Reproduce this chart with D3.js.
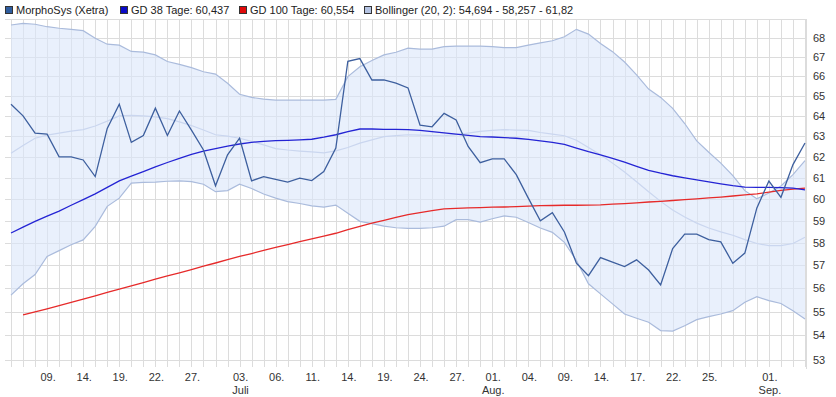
<!DOCTYPE html>
<html>
<head>
<meta charset="utf-8">
<script src="https://cdn.jsdelivr.net/npm/d3@7"></script>
<style>
  html, body { margin: 0; padding: 0; background: #fff; }
  svg { display: block; font-family: "Liberation Sans", Arial, sans-serif; }
</style>
</head>
<body>
<div id="chart"></div>
<script>
// trading days, Xetra, June - Sept 2017
const dates = [
  "2017-06-06","2017-06-07","2017-06-08","2017-06-09",
  "2017-06-12","2017-06-13","2017-06-14","2017-06-15","2017-06-16",
  "2017-06-19","2017-06-20","2017-06-21","2017-06-22","2017-06-23",
  "2017-06-26","2017-06-27","2017-06-28","2017-06-29","2017-06-30",
  "2017-07-03","2017-07-04","2017-07-05","2017-07-06","2017-07-07",
  "2017-07-10","2017-07-11","2017-07-12","2017-07-13","2017-07-14",
  "2017-07-17","2017-07-18","2017-07-19","2017-07-20","2017-07-21",
  "2017-07-24","2017-07-25","2017-07-26","2017-07-27","2017-07-28",
  "2017-07-31","2017-08-01","2017-08-02","2017-08-03","2017-08-04",
  "2017-08-07","2017-08-08","2017-08-09","2017-08-10","2017-08-11",
  "2017-08-14","2017-08-15","2017-08-16","2017-08-17","2017-08-18",
  "2017-08-21","2017-08-22","2017-08-23","2017-08-24","2017-08-25",
  "2017-08-28","2017-08-29","2017-08-30","2017-08-31","2017-09-01",
  "2017-09-04","2017-09-05","2017-09-06"
];

const close = [
  64.58, 64.0, 63.15, 63.1, 62.0, 62.0, 61.85, 61.06, 63.38, 64.58,
  62.7, 63.03, 64.38, 63.03, 64.24, 63.3, 62.33, 60.63, 62.1, 62.9,
  60.86, 61.06, 60.93, 60.8, 60.99, 60.87, 61.3, 62.42, 66.76, 66.9,
  65.8, 65.8, 65.64, 65.4, 63.54, 63.46, 64.12, 63.8, 62.5, 61.72,
  61.9, 61.9, 61.15, 60.05, 59.01, 59.38, 58.5, 57.1, 56.55, 57.35,
  57.15, 56.95, 57.25, 56.8, 56.15, 57.75, 58.4, 58.4, 58.15, 58.05,
  57.1, 57.55, 59.6, 60.85, 60.09, 61.63, 62.67
];

const gd38 = [
  58.45, 58.72, 58.98, 59.22, 59.45, 59.72, 59.98, 60.25, 60.55, 60.86,
  61.08, 61.3, 61.52, 61.73, 61.93, 62.12, 62.28, 62.4, 62.52, 62.62,
  62.7, 62.75, 62.78, 62.8, 62.82, 62.85, 62.95, 63.07, 63.22, 63.35,
  63.35, 63.33, 63.33, 63.32, 63.28, 63.22, 63.16, 63.1, 63.04, 62.98,
  62.96, 62.93, 62.9, 62.84, 62.77, 62.7, 62.6, 62.42, 62.25, 62.1,
  61.93, 61.75, 61.55, 61.36, 61.22, 61.1, 61.0, 60.91, 60.81, 60.72,
  60.63, 60.56, 60.55, 60.55, 60.54, 60.52, 60.44
];

const gd100 = [
  null, 54.86, 54.99, 55.12, 55.26, 55.4, 55.54, 55.68, 55.83, 55.97,
  56.11, 56.25, 56.4, 56.54, 56.68, 56.82, 56.97, 57.11, 57.26, 57.4,
  57.53, 57.67, 57.8, 57.93, 58.06, 58.19, 58.31, 58.44, 58.6, 58.75,
  58.9, 59.03, 59.16, 59.29, 59.38, 59.47, 59.55, 59.58, 59.6, 59.61,
  59.63, 59.64, 59.66, 59.68, 59.7, 59.71, 59.72, 59.72, 59.73, 59.74,
  59.77, 59.8, 59.83, 59.87, 59.9, 59.94, 59.98, 60.02, 60.06, 60.1,
  60.15, 60.2, 60.25, 60.33, 60.41, 60.47, 60.52
];

const bollUpper = [
  68.66, 68.75, 68.7, 68.57, 68.49, 68.43, 68.36, 67.96, 67.65, 67.6,
  67.27, 67.23, 67.09, 66.75, 66.6, 66.43, 66.22, 66.1, 65.63, 65.08,
  64.92, 64.83, 64.78, 64.78, 64.78, 64.78, 64.78, 64.82, 65.97, 66.48,
  66.8, 67.09, 67.23, 67.44, 67.39, 67.39, 67.52, 67.55, 67.55, 67.55,
  67.52, 67.47, 67.47, 67.6, 67.72, 67.83, 68.04, 68.43, 68.18, 67.69,
  67.26, 66.72, 66.06, 65.34, 64.92, 64.37, 63.62, 62.77, 62.22, 61.7,
  61.11, 60.4, 60.02, 60.29, 60.62, 61.15, 61.82
];

const bollMiddle = [
  62.17, 62.55, 62.9, 63.05, 63.15, 63.25, 63.32, 63.5, 63.74, 64.0,
  64.02, 64.0, 63.95, 63.86, 63.7, 63.52, 63.3, 63.07, 63.0, 62.9,
  62.75, 62.58, 62.4, 62.33, 62.28, 62.24, 62.19, 62.29, 62.45, 62.66,
  62.82, 62.98, 63.03, 63.07, 63.05, 63.03, 63.02, 63.08, 63.15, 63.23,
  63.28, 63.32, 63.3, 63.28, 63.18, 63.1, 63.02, 62.8, 62.45, 62.1,
  61.7, 61.28, 60.82, 60.35, 59.9, 59.5, 59.18, 58.9, 58.68, 58.5,
  58.35, 58.15, 57.98, 57.88, 57.88, 57.98, 58.26
];

const bollLower = [
  55.71, 56.2, 56.6, 57.4, 57.66, 57.92, 58.14, 58.75, 59.67, 60.05,
  60.75, 60.79, 60.8, 60.84, 60.86, 60.82, 60.7, 60.35, 60.4, 60.7,
  60.5, 60.24, 60.05, 59.89, 59.8, 59.69, 59.63, 59.73, 59.35, 58.98,
  58.88, 58.76, 58.69, 58.66, 58.66, 58.69, 58.76, 59.06, 59.06, 58.95,
  59.1, 59.23, 59.17, 58.93, 58.68, 58.48, 58.03, 57.22, 56.2, 55.76,
  55.33, 54.9, 54.72, 54.55, 54.2, 54.18, 54.4, 54.66, 54.79, 54.9,
  55.04, 55.4, 55.64, 55.47, 55.35, 55.04, 54.69
];

const tickDates = [
  "2017-06-09","2017-06-14","2017-06-19","2017-06-22","2017-06-27",
  "2017-07-03","2017-07-06","2017-07-11","2017-07-14","2017-07-19",
  "2017-07-24","2017-07-27","2017-08-01","2017-08-04","2017-08-09",
  "2017-08-14","2017-08-17","2017-08-22","2017-08-25","2017-09-01"
];
const monthNames = {"2017-07-03": "Juli", "2017-08-01": "Aug.", "2017-09-01": "Sep."};

const yTicks = [53, 54, 55, 56, 57, 58, 59, 60, 61, 62, 63, 64, 65, 66, 67, 68];
const yGrid = [53, 54, 55, 56, 57, 58, 59, 60, 61, 62, 63, 64, 65, 66, 67, 68, 69];

const legendItems = [
  {label: "MorphoSys (Xetra)", color: "#2f5d9f", x: 5},
  {label: "GD 38 Tage: 60,437", color: "#0a0ac8", x: 120},
  {label: "GD 100 Tage: 60,554", color: "#e00a0a", x: 239},
  {label: "Bollinger (20, 2): 54,694 - 58,257 - 61,82", color: "#b4c3e2", x: 364}
];

const W = 836, H = 397;
const PLOT = {left: 5, right: 806, top: 18.5, bottom: 366.5};

const svg = d3.select("#chart").append("svg")
  .attr("width", W)
  .attr("height", H);

const x = d3.scalePoint().domain(dates).range([11, 805]);
const y = d3.scaleLog().domain([53, 68]).range([359.5, 37.5]);

// ==================== grid =====================
const grid = svg.append("g").attr("class", "grid")
  .attr("stroke", "#dcdcdc")
  .attr("stroke-width", 1)
  .attr("shape-rendering", "crispEdges");

grid.selectAll(".hgrid")
  .data(yGrid)
  .enter()
  .append("line")
  .attr("x1", PLOT.left)
  .attr("x2", PLOT.right)
  .attr("y1", d => Math.round(y(d)) + 0.5)
  .attr("y2", d => Math.round(y(d)) + 0.5);

grid.selectAll(".vgrid")
  .data(dates)
  .enter()
  .append("line")
  .attr("x1", d => Math.round(x(d)) + 0.5)
  .attr("x2", d => Math.round(x(d)) + 0.5)
  .attr("y1", PLOT.top)
  .attr("y2", PLOT.bottom);

grid.append("line")
  .attr("x1", PLOT.right + 0.5).attr("x2", PLOT.right + 0.5)
  .attr("y1", PLOT.top).attr("y2", PLOT.bottom + 2);

// ==================== bollinger band =====================
const idx = d3.range(dates.length);

const band = d3.area()
  .x(i => x(dates[i]))
  .y0(i => y(bollLower[i]))
  .y1(i => y(bollUpper[i]));

svg.append("path")
  .datum(idx)
  .attr("fill", "#dbe6fa")
  .attr("fill-opacity", 0.6)
  .attr("d", band);

const lineOf = values => d3.line()
  .defined(i => values[i] != null)
  .x(i => x(dates[i]))
  .y(i => y(values[i]));

svg.append("path").datum(idx)
  .attr("fill", "none").attr("stroke", "#aabbdc").attr("stroke-width", 1.2)
  .attr("d", lineOf(bollUpper));
svg.append("path").datum(idx)
  .attr("fill", "none").attr("stroke", "#aabbdc").attr("stroke-width", 1.2)
  .attr("d", lineOf(bollLower));
svg.append("path").datum(idx)
  .attr("fill", "none").attr("stroke", "#cad6ef").attr("stroke-width", 1.2)
  .attr("d", lineOf(bollMiddle));

// ==================== moving averages + price =====================
svg.append("path").datum(idx)
  .attr("fill", "none").attr("stroke", "#e62a2a").attr("stroke-width", 1.3)
  .attr("d", lineOf(gd100));
svg.append("path").datum(idx)
  .attr("fill", "none").attr("stroke", "#2424d4").attr("stroke-width", 1.3)
  .attr("d", lineOf(gd38));
svg.append("path").datum(idx)
  .attr("fill", "none").attr("stroke", "#3d5f9e").attr("stroke-width", 1.3)
  .attr("d", lineOf(close));

// ==================== axes =====================
const yAxis = svg.append("g")
  .attr("font-size", 11)
  .attr("fill", "#333");
yAxis.selectAll("text")
  .data(yTicks)
  .enter()
  .append("text")
  .attr("x", 813)
  .attr("y", d => y(d) + 4)
  .text(d => d);

const xAxis = svg.append("g")
  .attr("font-size", 11)
  .attr("fill", "#333")
  .attr("text-anchor", "middle");
xAxis.selectAll(".day")
  .data(tickDates)
  .enter()
  .append("text")
  .attr("x", d => x(d) + 1)
  .attr("y", 381)
  .text(d => d.slice(8) + ".");
xAxis.selectAll(".month")
  .data(tickDates.filter(d => monthNames[d]))
  .enter()
  .append("text")
  .attr("x", d => x(d) + 1)
  .attr("y", 394)
  .text(d => monthNames[d]);

// ==================== legend =====================
const legend = svg.append("g").attr("font-size", 11).attr("fill", "#222");
const items = legend.selectAll("g")
  .data(legendItems)
  .enter()
  .append("g")
  .attr("transform", d => `translate(${d.x},0)`);
items.append("rect")
  .attr("x", 0.5).attr("y", 6.5)
  .attr("width", 7).attr("height", 7)
  .attr("fill", d => d.color)
  .attr("stroke", "#333")
  .attr("stroke-width", 1);
items.append("text")
  .attr("x", 11)
  .attr("y", 14)
  .text(d => d.label);
</script>
</body>
</html>
